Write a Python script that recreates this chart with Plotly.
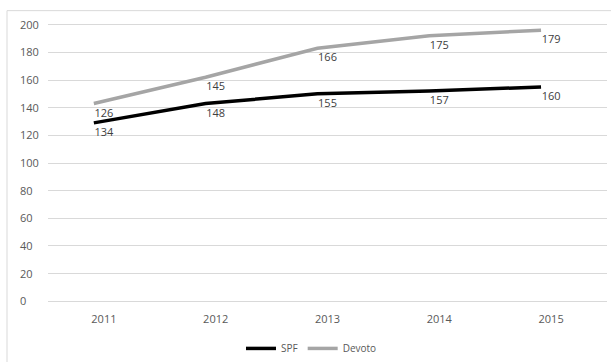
import plotly.graph_objects as go

years = ["2011", "2012", "2013", "2014", "2015"]
spf_values = [129, 143, 150, 152, 155]
devoto_values = [143, 162, 183, 192, 196]
spf_labels = ["134", "148", "155", "157", "160"]
devoto_labels = ["126", "145", "166", "175", "179"]
y_ticks = [0, 20, 40, 60, 80, 100, 120, 140, 160, 180, 200]

W, H = 611, 362
# plot area of the reference: y=200 at 25px, y=0 at 301px
pad = 7  # data units of padding so edge tick labels fit inside
ppu = (301 - 25) / 200.0
ML, MR = 16, 4
MT = 25 - pad * ppu
MB = H - 301 - pad * ppu
pw = W - ML - MR
ph = H - MT - MB
x0 = (48 - ML) / pw
x1 = (607 - ML) / pw
shift = 0.09

font = "Open Sans"
idx = list(range(len(years)))
fig = go.Figure()
fig.add_trace(go.Scatter(
    x=idx, y=spf_values, name="SPF", mode="lines",
    line=dict(color="#000000", width=3.5), xaxis="x", yaxis="y",
    hoverinfo="skip"))
fig.add_trace(go.Scatter(
    x=idx, y=devoto_values, name="Devoto", mode="lines",
    line=dict(color="#a5a5a5", width=3.5), xaxis="x", yaxis="y",
    hoverinfo="skip"))
for vals, labs in ((spf_values, spf_labels), (devoto_values, devoto_labels)):
    fig.add_trace(go.Scatter(
        x=idx, y=vals, mode="markers+text", text=labs,
        textposition="bottom center",
        marker=dict(size=6, color="rgba(0,0,0,0)"),
        textfont=dict(family=font, size=11, color="#404040"),
        xaxis="x2", yaxis="y", showlegend=False, hoverinfo="skip"))

fig.update_layout(
    width=W, height=H,
    margin=dict(l=ML, r=MR, t=MT, b=MB, autoexpand=False),
    paper_bgcolor="white", plot_bgcolor="white",
    font=dict(family=font, size=11, color="#595959"),
    xaxis=dict(domain=[x0, x1], range=[-0.5 + shift, 4.5 + shift],
               visible=False, showgrid=False, zeroline=False),
    xaxis2=dict(domain=[x0, x1], overlaying="x", anchor="y",
                range=[-0.5, 4.5], tickmode="array",
                tickvals=idx, ticktext=years,
                showgrid=False, zeroline=False, showline=False,
                ticks="", ticklabelstandoff=0, automargin=False,
                tickfont=dict(size=11, color="#595959")),
    yaxis=dict(range=[-pad, 200 + pad], anchor="free", position=0.0,
               tickvals=y_ticks, ticklabelposition="inside",
               showgrid=True, gridcolor="#d9d9d9", gridwidth=1,
               zeroline=False, showline=False, ticks="", automargin=False,
               tickfont=dict(size=11, color="#595959")),
    legend=dict(orientation="h", x=0.5, xanchor="center",
                y=(H - MB - 348) / ph, yanchor="middle", itemwidth=30,
                font=dict(size=10, color="#595959")),
    shapes=[dict(type="rect", xref="paper", yref="paper",
                 x0=(7 - ML) / pw, x1=1.2,
                 y0=-0.5, y1=1 + (MT - 11) / ph,
                 line=dict(color="#d9d9d9", width=1))],
)
fig.write_html("out.html")
